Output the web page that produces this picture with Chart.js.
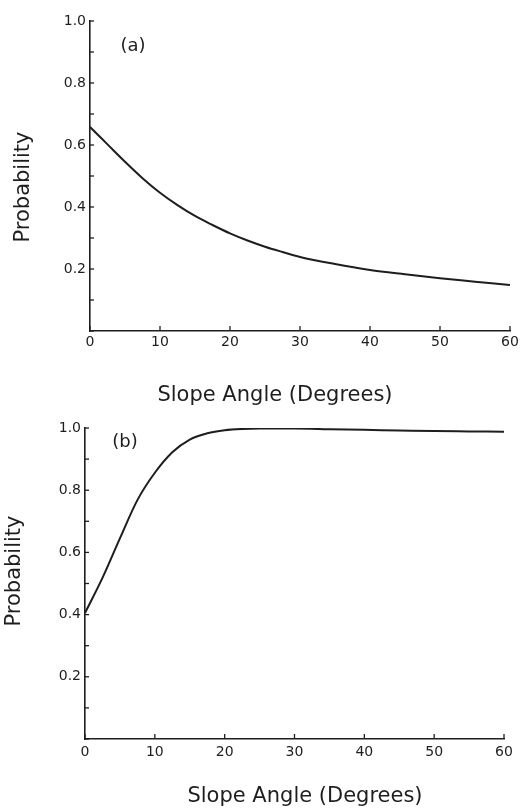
<!DOCTYPE html>
<html>
<head>
<meta charset="utf-8">
<script src="https://cdn.jsdelivr.net/npm/chart.js@4.4.1/dist/chart.umd.min.js"></script>
<style>
  html, body { margin: 0; padding: 0; background: #fff; }
  #wrap { position: relative; width: 523px; height: 811px; }
  canvas { position: absolute; left: 0; }
</style>
</head>
<body>
<div id="wrap">
  <canvas id="chartA" width="523" height="410" style="top:0"></canvas>
  <canvas id="chartB" width="523" height="401" style="top:410px"></canvas>
</div>
<script>
// ---- data ----
const slopeAngles = [0, 2.5, 5, 7.5, 10, 12.5, 15, 17.5, 20, 22.5, 25, 27.5, 30, 35, 40, 45, 50, 55, 60];
const probabilityA = [0.658, 0.602, 0.546, 0.493, 0.446, 0.406, 0.371, 0.342, 0.315, 0.292, 0.272, 0.255, 0.239, 0.216, 0.197, 0.183, 0.170, 0.159, 0.148];
const probabilityB = [0.405, 0.518, 0.645, 0.768, 0.856, 0.922, 0.963, 0.983, 0.993, 0.997, 0.998, 0.998, 0.998, 0.996, 0.994, 0.992, 0.990, 0.989, 0.988];
const xTickValues = [0, 10, 20, 30, 40, 50, 60];
const yTickLabels = ["0.2", "0.4", "0.6", "0.8", "1.0"];
const xTitle = "Slope Angle (Degrees)";
const yTitle = "Probability";
const panelLabels = ["(a)", "(b)"];

const INK = '#1e1e1e';
const FONT = "'DejaVu Sans', sans-serif";

function points(xs, ys) { return xs.map((x, i) => ({ x: x, y: ys[i] })); }

// Inward tick marks + titles + panel label
const paperPlugin = {
  id: 'paper',
  afterDraw(chart, args, opts) {
    const ctx = chart.ctx;
    const xs = chart.scales.x, ys = chart.scales.y;
    const area = chart.chartArea;
    ctx.save();
    ctx.strokeStyle = INK;
    ctx.lineWidth = 1.3;
    // x ticks pointing up
    xs.ticks.forEach(t => {
      const px = xs.getPixelForValue(t.value);
      ctx.beginPath();
      ctx.moveTo(px, area.bottom);
      ctx.lineTo(px, area.bottom - 5);
      ctx.stroke();
    });
    // y ticks pointing right
    ys.ticks.forEach(t => {
      const py = ys.getPixelForValue(t.value);
      ctx.beginPath();
      ctx.moveTo(area.left, py);
      ctx.lineTo(area.left + 4, py);
      ctx.stroke();
    });
    ctx.fillStyle = INK;
    ctx.textAlign = 'center';
    ctx.textBaseline = 'middle';
    // x title
    ctx.font = "21px " + FONT;
    ctx.fillText(xTitle, opts.xTitle.x, opts.xTitle.y);
    // y title rotated
    ctx.save();
    ctx.translate(opts.yTitle.x, opts.yTitle.y);
    ctx.rotate(-Math.PI / 2);
    ctx.fillText(yTitle, 0, 0);
    ctx.restore();
    // panel label
    ctx.font = "18px " + FONT;
    ctx.fillText(opts.panel.text, opts.panel.x, opts.panel.y);
    ctx.restore();
  }
};

function makeChart(id, ys, cfg) {
  return new Chart(document.getElementById(id), {
    type: 'line',
    data: {
      datasets: [{
        data: points(slopeAngles, ys),
        borderColor: INK,
        borderWidth: 2,
        pointRadius: 0,
        fill: false,
        cubicInterpolationMode: 'monotone'
      }]
    },
    options: {
      responsive: false,
      animation: false,
      devicePixelRatio: 1,
      layout: { padding: cfg.padding },
      plugins: {
        legend: { display: false },
        tooltip: { enabled: false },
        paper: cfg.text
      },
      scales: {
        x: {
          type: 'linear',
          min: 0, max: 60,
          afterFit: s => { s.height = cfg.xHeight; },
          afterBuildTicks: s => { s.ticks = xTickValues.map(v => ({ value: v })); },
          ticks: {
            padding: cfg.xPad,
            color: INK,
            font: { family: FONT, size: 14 },
            maxRotation: 0,
            callback: v => String(v)
          },
          grid: { display: true, drawOnChartArea: false, drawTicks: false },
          border: { display: true, color: INK, width: 1.6 }
        },
        y: {
          type: 'linear',
          min: 0, max: 1,
          afterFit: s => { s.width = cfg.yWidth; },
          ticks: {
            stepSize: 0.1,
            padding: 4,
            color: INK,
            font: { family: FONT, size: 14 },
            callback: v => {
              const k = Math.round(v * 10);
              if (k === 0 || k % 2 !== 0) return '';
              return yTickLabels[k / 2 - 1];
            }
          },
          grid: { display: true, drawOnChartArea: false, drawTicks: false },
          border: { display: true, color: INK, width: 1.6 }
        }
      }
    },
    plugins: [paperPlugin]
  });
}

makeChart('chartA', probabilityA, {
  padding: { left: 0, right: 13, top: 21, bottom: 0 },
  xHeight: 79, yWidth: 90, xPad: 3,
  text: {
    xTitle: { x: 275, y: 396 },
    yTitle: { x: 24, y: 187 },
    panel: { text: panelLabels[0], x: 133, y: 46 }
  }
});

makeChart('chartB', probabilityB, {
  padding: { left: 0, right: 19, top: 18, bottom: 0 },
  xHeight: 72, yWidth: 85, xPad: 5,
  text: {
    xTitle: { x: 305, y: 387 },
    yTitle: { x: 15, y: 161 },
    panel: { text: panelLabels[1], x: 125, y: 32 }
  }
});
</script>
</body>
</html>
